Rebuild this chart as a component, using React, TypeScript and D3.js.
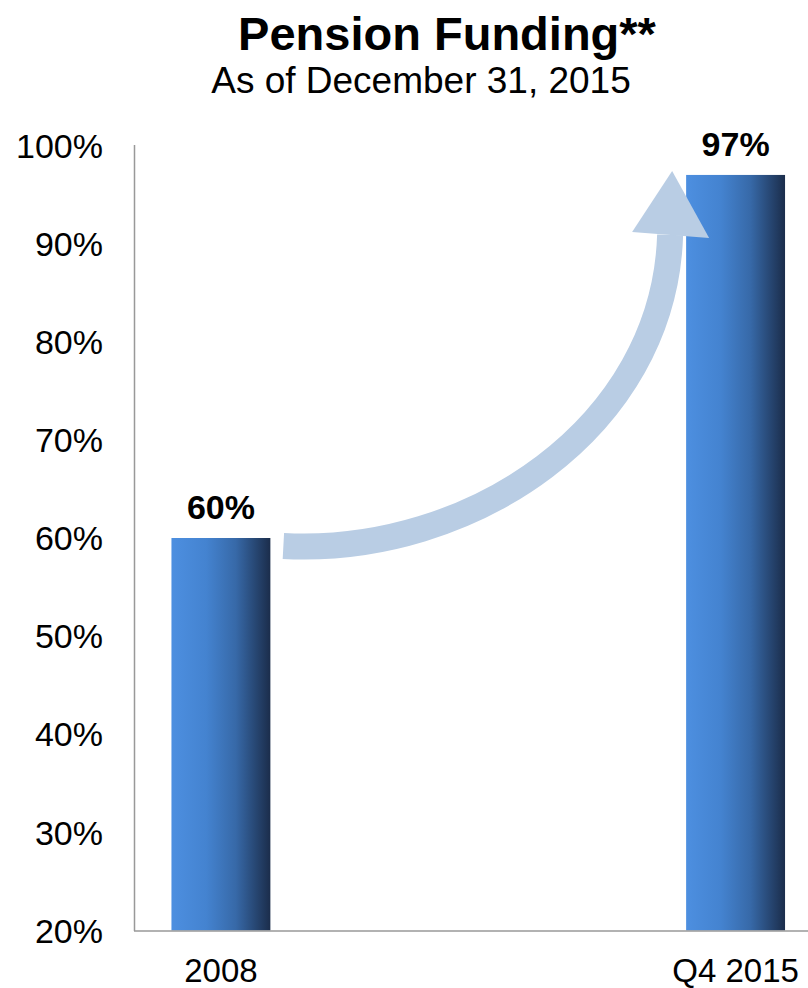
import React from "react";
import * as d3 from "d3";

// Funded status of the pension plan
const categories: string[] = ["2008", "Q4 2015"];
const fundedPct: number[] = [60, 97];
const yTicks: number[] = [20, 30, 40, 50, 60, 70, 80, 90, 100];

const W = 808;
const H = 988;
const FONT = "'Liberation Sans', Arial, Helvetica, sans-serif";

export default function App() {
  const x = d3
    .scaleBand<string>()
    .domain(categories)
    .range([134.5, 822])
    .paddingInner(0.8078)
    .paddingOuter(0.0718);
  const y = d3.scaleLinear().domain([20, 100]).range([930.5, 145.5]);

  const bw = x.bandwidth();
  const x0 = x(categories[0])!;
  const x1 = x(categories[1])!;

  // Curved "growth" arrow from the first bar to the second
  const start: [number, number] = [x0 + bw + 13, y(fundedPct[0]) + 8];
  const end: [number, number] = [x1 - 16, y(fundedPct[1]) + 60];
  const p = d3.path();
  p.moveTo(start[0], start[1]);
  p.bezierCurveTo(start[0] + 187, start[1] + 10, end[0] - 6, end[1] + 193, end[0], end[1]);
  const head = [
    [end[0] - 38, end[1] - 3],
    [end[0] + 39, end[1] + 3],
    [end[0] + 2, end[1] - 64],
  ];

  return (
    <svg
      width={W}
      height={H}
      style={{ position: "absolute", left: 0, top: 0, display: "block", background: "#fff" }}
      fontFamily={FONT}
    >
      <defs>
        <linearGradient id="barGrad" x1="0" y1="0" x2="1" y2="0">
          <stop offset="0%" stopColor="#4D8FE0" />
          <stop offset="35%" stopColor="#4483D0" />
          <stop offset="65%" stopColor="#3769A8" />
          <stop offset="100%" stopColor="#1B2D4B" />
        </linearGradient>
      </defs>

      <text x={447} y={50} textAnchor="middle" fontSize={47} fontWeight="bold" fill="#000">
        Pension Funding**
      </text>
      <text x={421} y={93} textAnchor="middle" fontSize={37} fill="#000">
        As of December 31, 2015
      </text>

      {yTicks.map((t) => (
        <text
          key={t}
          x={103}
          y={y(t)}
          dy="0.36em"
          textAnchor="end"
          fontSize={34}
          fill="#000"
        >
          {t}%
        </text>
      ))}

      {categories.map((c, i) => (
        <rect
          key={c}
          x={x(c)}
          y={y(fundedPct[i])}
          width={bw}
          height={y(20) - y(fundedPct[i])}
          fill="url(#barGrad)"
        />
      ))}

      <line x1={134.5} x2={134.5} y1={145} y2={931} stroke="#999" strokeWidth={1.5} />
      <line x1={134} x2={W} y1={931} y2={931} stroke="#999" strokeWidth={1.5} />

      {categories.map((c, i) => (
        <text
          key={"v" + c}
          x={x(c)! + bw / 2}
          y={y(fundedPct[i]) - 19}
          textAnchor="middle"
          fontSize={34}
          fontWeight="bold"
          fill="#000"
        >
          {fundedPct[i]}%
        </text>
      ))}

      {categories.map((c) => (
        <text
          key={"c" + c}
          x={x(c)! + bw / 2}
          y={982}
          textAnchor="middle"
          fontSize={33}
          fill="#000"
        >
          {c}
        </text>
      ))}

      <path d={p.toString()} fill="none" stroke="#B9CDE4" strokeWidth={26} />
      <polygon points={head.map((q) => q.join(",")).join(" ")} fill="#B9CDE4" />
    </svg>
  );
}
